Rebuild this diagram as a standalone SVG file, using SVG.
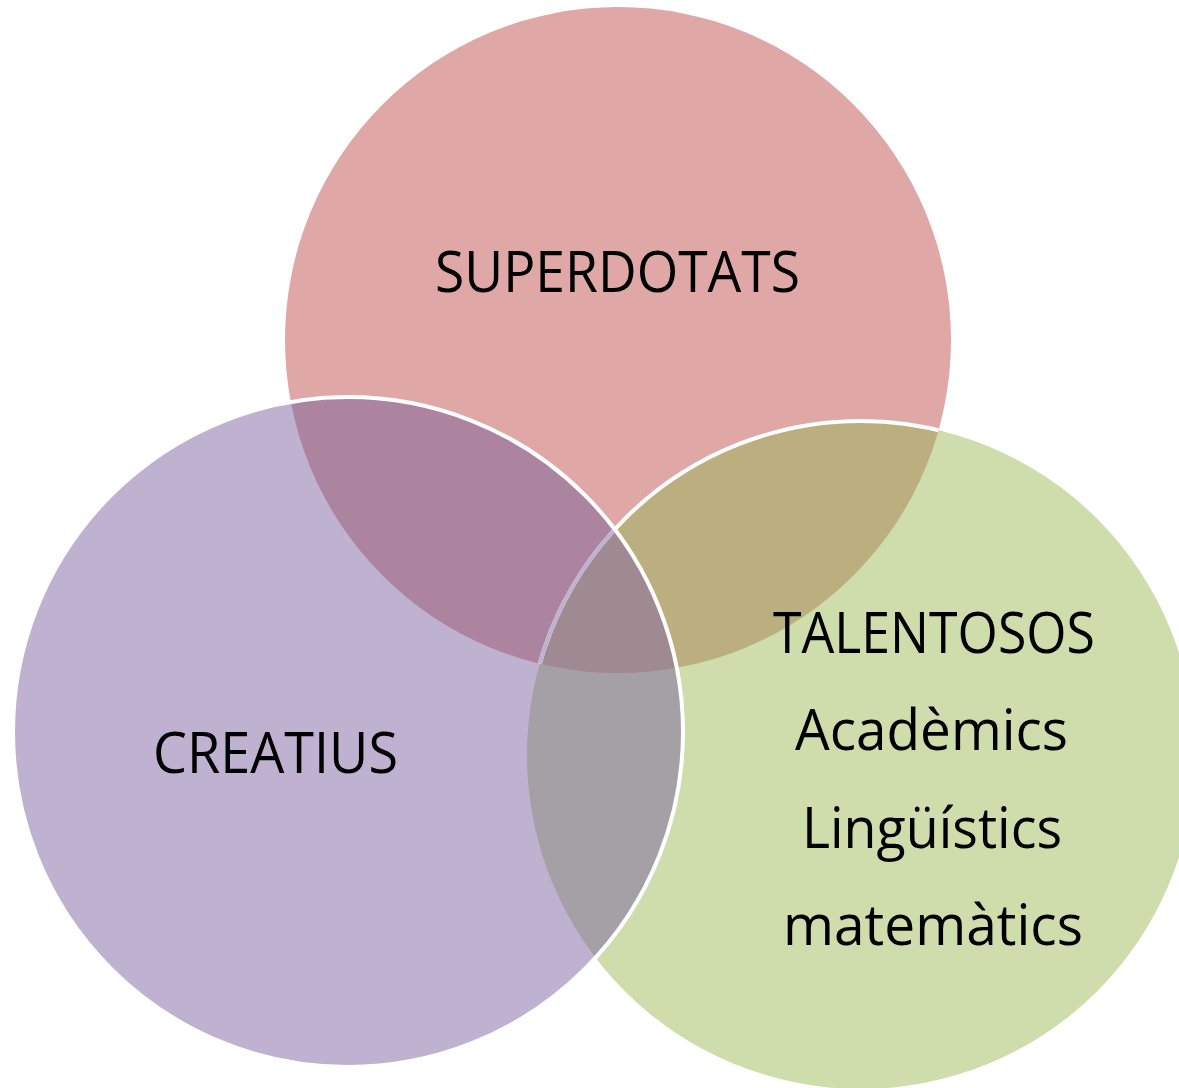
<svg xmlns="http://www.w3.org/2000/svg" width="1179" height="1088" viewBox="0 0 1179 1088">
  <style>
    .lbl { font-family: "Open Sans", "Noto Sans", "Liberation Sans", sans-serif; font-size: 56px; fill: #000000; }
    .edge { fill: none; stroke-width: 4; }
  </style>
  <defs>
    <circle id="cP" cx="618" cy="340" r="333"/>
    <circle id="cV" cx="348" cy="732" r="335"/>
    <circle id="cG" cx="861" cy="755" r="334"/>
    <clipPath id="clipP"><use href="#cP"/></clipPath>
    <clipPath id="clipV"><use href="#cV"/></clipPath>
    <clipPath id="clipG"><use href="#cG"/></clipPath>
  </defs>
  <rect x="0" y="0" width="1179" height="1088" fill="#FFFFFF"/>

  <g id="superdotats">
    <use href="#cP" fill="#DFA7A6"/>
  </g>
  <g id="talentosos">
    <use href="#cG" fill="#CFDDAC"/>
  </g>
  <g id="creatius">
    <use href="#cV" fill="#BFB1D0"/>
  </g>

  <g id="overlaps">
    <use href="#cG" fill="#BBAF7F" clip-path="url(#clipP)"/>
    <use href="#cV" fill="#AD84A0" clip-path="url(#clipP)"/>
    <use href="#cV" fill="#A5A0A6" clip-path="url(#clipG)"/>
    <g clip-path="url(#clipG)">
      <use href="#cV" fill="#9E8A90" clip-path="url(#clipP)"/>
    </g>
  </g>

  <g id="outlines">
    <use href="#cG" class="edge" stroke="#FFFFFF" clip-path="url(#clipP)"/>
    <g clip-path="url(#clipP)">
      <use href="#cG" class="edge" stroke="#BFB1D0" clip-path="url(#clipV)"/>
    </g>
    <use href="#cV" class="edge" stroke="#FFFFFF"/>
  </g>

  <g id="labels">
    <text class="lbl" x="435" y="292" textLength="365" lengthAdjust="spacingAndGlyphs">SUPERDOTATS</text>
    <text class="lbl" x="153" y="773" textLength="245" lengthAdjust="spacingAndGlyphs">CREATIUS</text>
    <text class="lbl" x="773" y="653" textLength="322" lengthAdjust="spacingAndGlyphs">TALENTOSOS</text>
    <text class="lbl" x="795" y="750" textLength="273" lengthAdjust="spacingAndGlyphs">Acadèmics</text>
    <text class="lbl" x="802" y="848" textLength="260" lengthAdjust="spacingAndGlyphs">Lingüístics</text>
    <text class="lbl" x="783" y="945" textLength="300" lengthAdjust="spacingAndGlyphs">matemàtics</text>
  </g>
</svg>
